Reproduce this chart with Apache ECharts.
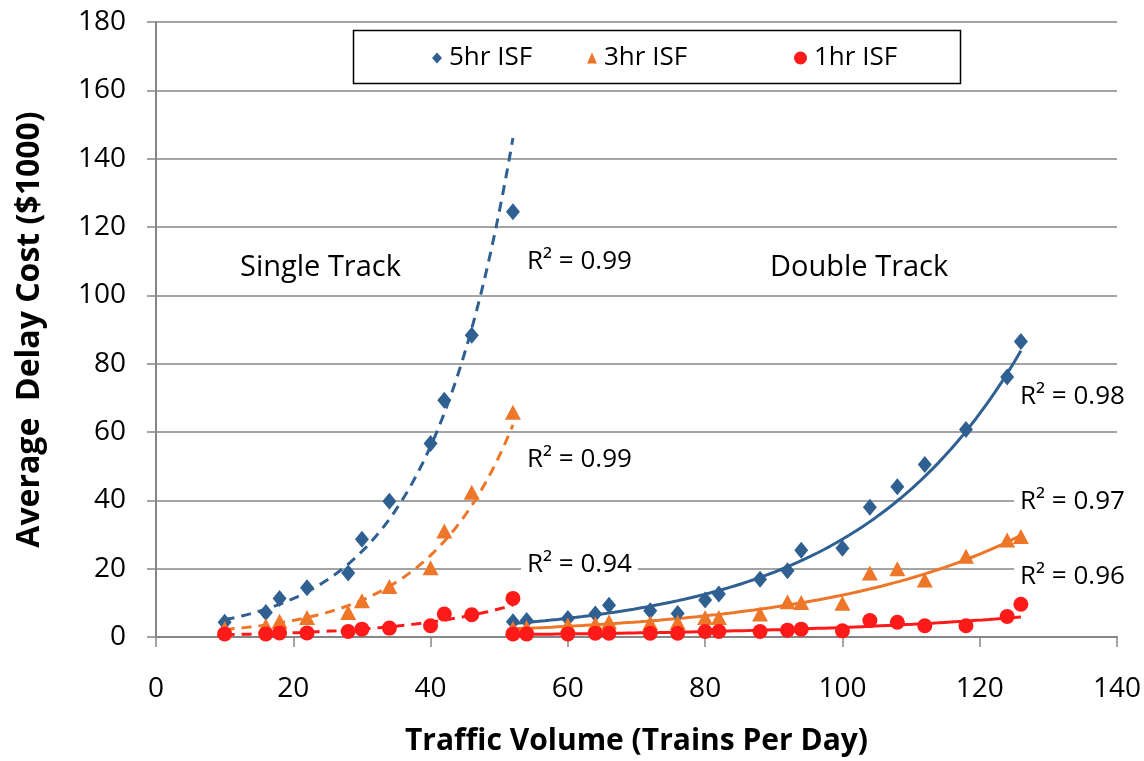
<!DOCTYPE html>
<html>
<head>
<meta charset="utf-8">
<script src="https://cdn.jsdelivr.net/npm/echarts@6/dist/echarts.min.js"></script>
<style>
html,body{margin:0;padding:0;background:#fff;}
#chart{width:1144px;height:761px;}
</style>
</head>
<body>
<div id="chart"></div>
<script>
// ---- data ----
const seriesNames = ['5hr ISF', '3hr ISF', '1hr ISF'];
const singleX = [10, 16, 18, 22, 28, 30, 34, 40, 42, 46, 52];
const single5 = [4.3, 7.2, 11.3, 14.4, 18.7, 28.6, 39.7, 56.6, 69.3, 88.3, 124.5];
const single3 = [2.5, 3.3, 4.6, 5.7, 7.2, 10.6, 14.8, 20.3, 31.0, 42.4, 65.8];
const single1 = [0.9, 0.9, 1.2, 1.2, 1.6, 2.3, 2.6, 3.3, 6.7, 6.5, 11.3];
const doubleX = [52, 54, 60, 64, 66, 72, 76, 80, 82, 88, 92, 94, 100, 104, 108, 112, 118, 124, 126];
const double5 = [4.5, 4.8, 5.4, 6.7, 9.3, 7.7, 6.9, 10.8, 12.6, 16.9, 19.4, 25.4, 26.0, 38.0, 44.0, 50.5, 60.7, 76.1, 86.5];
const double3 = [2.5, 2.8, 3.5, 3.8, 4.5, 4.1, 4.3, 5.7, 5.7, 6.7, 10.3, 10.1, 9.9, 18.7, 20.0, 16.7, 23.6, 28.4, 29.4];
const double1 = [0.9, 0.9, 0.9, 1.1, 1.1, 1.1, 1.1, 1.6, 1.6, 1.6, 2.0, 2.3, 1.8, 4.8, 4.3, 3.3, 3.3, 6.0, 9.6];
const r2Single = ['0.99', '0.99', '0.94'];
const r2Double = ['0.98', '0.97', '0.96'];
const regionLabels = ['Single Track', 'Double Track'];
const xTicks = [0, 20, 40, 60, 80, 100, 120, 140];
const yTicks = [0, 20, 40, 60, 80, 100, 120, 140, 160, 180];

const colors = ['#2F6091', '#EE7628', '#FF1A1A'];
const symbols = ['diamond', 'triangle', 'circle'];
const symbolSizes = [[14, 17], [16, 15], [15, 15]];

// exponential least-squares trend (as in a spreadsheet exponential trendline)
function expFit(xs, ys) {
  const n = xs.length;
  let sx = 0, sy = 0, sxx = 0, sxy = 0;
  for (let i = 0; i < n; i++) {
    const ly = Math.log(ys[i]);
    sx += xs[i]; sy += ly; sxx += xs[i] * xs[i]; sxy += xs[i] * ly;
  }
  const b = (n * sxy - sx * sy) / (n * sxx - sx * sx);
  const a = Math.exp((sy - b * sx) / n);
  const x0 = xs[0], x1 = xs[n - 1];
  const pts = [];
  const steps = 80;
  for (let i = 0; i <= steps; i++) {
    const x = x0 + (x1 - x0) * i / steps;
    pts.push([x, a * Math.exp(b * x)]);
  }
  return pts;
}

const singleSets = [single5, single3, single1];
const doubleSets = [double5, double3, double1];
const series = [];
for (let k = 0; k < 3; k++) {
  series.push({
    name: seriesNames[k] + ' single trend', type: 'line', showSymbol: false, silent: true,
    data: expFit(singleX, singleSets[k]),
    lineStyle: { color: colors[k], width: 3, type: [10, 7] }, z: 2
  });
  series.push({
    name: seriesNames[k] + ' double trend', type: 'line', showSymbol: false, silent: true,
    data: expFit(doubleX, doubleSets[k]),
    lineStyle: { color: colors[k], width: 3, type: 'solid' }, z: 2
  });
}
for (let k = 0; k < 3; k++) {
  const pts = singleX.map((x, i) => [x, singleSets[k][i]])
    .concat(doubleX.map((x, i) => [x, doubleSets[k][i]]));
  series.push({
    name: seriesNames[k], type: 'scatter', data: pts,
    symbol: symbols[k], symbolSize: symbolSizes[k],
    itemStyle: { color: colors[k], opacity: 1 }, z: 3
  });
}

const FONT = '"Open Sans", Lato, sans-serif';
const legendLeft = [427, 582, 789];
const legends = seriesNames.map((nm, k) => ({
  data: [{ name: nm, icon: k === 0 ? 'diamond' : (k === 1 ? 'triangle' : 'circle') }],
  left: legendLeft[k], top: 40, z: 10,
  itemWidth: k === 2 ? 13 : 10, itemHeight: k === 2 ? 13 : 11, itemGap: 0,
  textStyle: { fontFamily: FONT, fontSize: 26, color: '#000', padding: [0, 0, 0, 2] },
  selectedMode: false
}));

const chart = echarts.init(document.getElementById('chart'), null, { renderer: 'canvas' });

function label(x, y, text, size, bg) {
  return {
    type: 'text', x: x, y: y, z: 10,
    style: {
      fontFamily: FONT, fontSize: size, fill: '#000',
      text: text, textVerticalAlign: 'middle',
      backgroundColor: bg ? '#fff' : null, padding: bg ? [2, 6, 2, 6] : 0
    }
  };
}

const option = {
  backgroundColor: '#fff',
  animation: false,
  grid: { left: 156, top: 22, right: 27, bottom: 123, containLabel: false },
  legend: legends,
  xAxis: {
    type: 'value', min: xTicks[0], max: xTicks[xTicks.length - 1], interval: 20,
    name: 'Traffic Volume (Trains Per Day)', nameLocation: 'middle', nameGap: 89,
    nameTextStyle: { fontFamily: FONT, fontSize: 30, fontWeight: 'bold', color: '#000' },
    axisLine: { show: true, onZero: false, lineStyle: { color: '#868686', width: 2 } },
    axisTick: { show: true, inside: false, length: 10, lineStyle: { color: '#868686', width: 1.5 } },
    axisLabel: { fontFamily: FONT, fontSize: 28, color: '#000', margin: 38 },
    splitLine: { show: false }
  },
  yAxis: {
    type: 'value', min: yTicks[0], max: yTicks[yTicks.length - 1], interval: 20,
    name: 'Average  Delay Cost ($1000)', nameLocation: 'middle', nameGap: 110,
    nameTextStyle: { fontFamily: FONT, fontSize: 32, fontWeight: 'bold', color: '#000' },
    axisLine: { show: true, lineStyle: { color: '#868686', width: 2 } },
    axisTick: { show: true, inside: false, length: 9, lineStyle: { color: '#868686', width: 1.5 } },
    axisLabel: { fontFamily: FONT, fontSize: 28, color: '#000', margin: 30 },
    splitLine: { show: true, lineStyle: { color: '#868686', width: 1.5 } }
  },
  graphic: [
    {
      type: 'rect', shape: { x: 353.5, y: 30.5, width: 607, height: 53 }, z: 1,
      style: { fill: 'none', stroke: '#000', lineWidth: 1.5 }
    },
    label(240, 268, regionLabels[0], 29, false),
    label(770, 268, regionLabels[1], 29, false),
    label(521, 262, 'R² = ' + r2Single[0], 26, true),
    label(521, 460, 'R² = ' + r2Single[1], 26, true),
    label(521, 565, 'R² = ' + r2Single[2], 26, true),
    label(1014, 397, 'R² = ' + r2Double[0], 26, true),
    label(1014, 502, 'R² = ' + r2Double[1], 26, true),
    label(1014, 577, 'R² = ' + r2Double[2], 26, true)
  ],
  series: series
};
chart.setOption(option);
</script>
</body>
</html>
